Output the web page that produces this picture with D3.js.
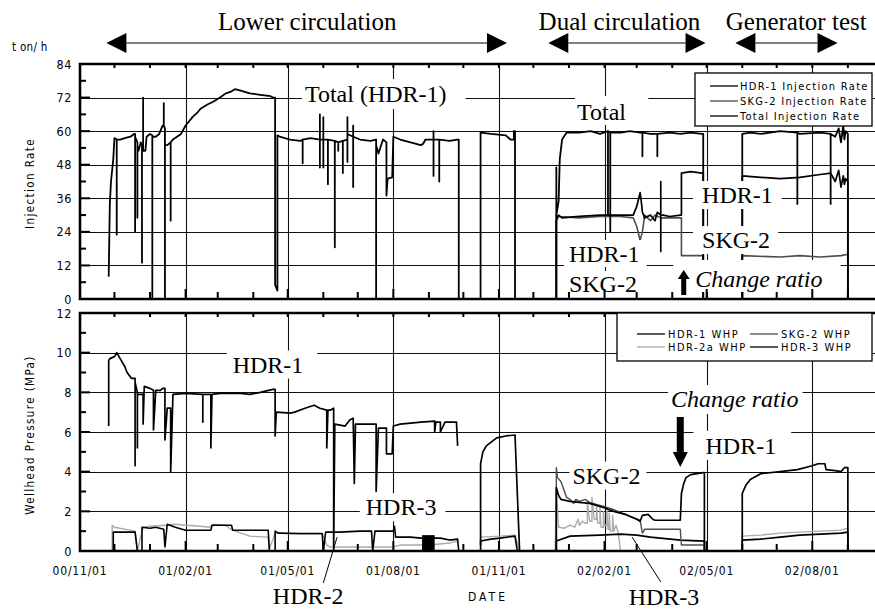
<!DOCTYPE html>
<html lang="en">
<head>
<meta charset="utf-8">
<title>Injection rate and wellhead pressure</title>
<script src="https://cdn.jsdelivr.net/npm/d3@7"></script>
<style>
  body { margin: 0; background: #fff; }
  svg { display: block; }
</style>
</head>
<body>
<script>
// ---------- data (date, value) ; repeated dates make vertical spikes ----------

// t/h, lower circulation total is HDR-1 only
var totalRate = [
  ["2000-11-26",8],["2000-11-27",34],["2000-11-28",42],["2000-11-30",50],["2000-12-01",57.5],
  ["2000-12-03",57],["2000-12-03",23],["2000-12-03",57],["2000-12-06",57],["2000-12-10",57.5],
  ["2000-12-15",58],["2000-12-18",59],["2000-12-19",59],["2000-12-19",24],["2000-12-19",58],
  ["2000-12-21",56],["2000-12-21",29],["2000-12-21",55],["2000-12-22",53],["2000-12-24",56],
  ["2000-12-25",55],["2000-12-25",13],["2000-12-25",54],["2000-12-26",56],["2000-12-26",72],["2000-12-26",53],
  ["2000-12-28",53],["2000-12-29",58],["2001-01-01",59],["2001-01-03",58.5],["2001-01-03",0],["2001-01-03",58],
  ["2001-01-06",58],["2001-01-09",59],["2001-01-12",62],["2001-01-13",62],["2001-01-13",70],["2001-01-13",62],
  ["2001-01-14",61],["2001-01-14",0],["2001-01-14",55],["2001-01-16",55],
  ["2001-01-19",56],["2001-01-19",28],["2001-01-19",56],["2001-01-21",57],["2001-01-28",59],
  ["2001-02-01",62],["2001-02-05",64],["2001-02-07",65],["2001-02-11",66.5],["2001-02-14",68],
  ["2001-02-20",69.5],["2001-02-25",70.5],["2001-03-03",72],["2001-03-08",73.5],["2001-03-12",74],
  ["2001-03-16",75],["2001-03-21",74.5],["2001-03-29",73.5],["2001-04-07",73],["2001-04-16",72.5],
  ["2001-04-18",72],["2001-04-20",72],["2001-04-20",5],["2001-04-22",3],["2001-04-22",58.5],
  ["2001-04-24",58],["2001-05-03",57],["2001-05-12",56.5],
  ["2001-05-14",57],["2001-05-14",48.5],["2001-05-14",57],["2001-05-21",57.5],
  ["2001-05-29",57],["2001-05-29",47],["2001-05-29",66],["2001-05-29",57],
  ["2001-06-01",57],["2001-06-01",47],["2001-06-01",65],["2001-06-01",57],
  ["2001-06-05",57],["2001-06-05",41],["2001-06-05",57],
  ["2001-06-11",56.5],["2001-06-11",18.5],["2001-06-11",56.5],
  ["2001-06-14",56],["2001-06-14",53],["2001-06-14",56],
  ["2001-06-18",56.5],["2001-06-18",45],["2001-06-18",56.5],
  ["2001-06-22",57],["2001-06-22",49],["2001-06-22",65],["2001-06-22",59],
  ["2001-06-27",58],["2001-06-27",40],["2001-06-27",62],["2001-06-27",58],
  ["2001-07-03",57],["2001-07-12",56.5],["2001-07-17",57],["2001-07-17",0],["2001-07-17",55],
  ["2001-07-19",52],["2001-07-23",57],["2001-07-26",56],["2001-07-26",37],["2001-07-27",43],
  ["2001-07-31",43.5],["2001-08-01",58],["2001-08-07",57],["2001-08-16",56],["2001-08-25",55],
  ["2001-08-27",55.5],["2001-08-29",57],
  ["2001-09-05",57],["2001-09-05",44],["2001-09-05",60],["2001-09-05",57],
  ["2001-09-10",57],["2001-09-10",42],["2001-09-10",57],["2001-09-19",56.5],["2001-09-26",57],
  ["2001-09-27",57],["2001-09-27",0],["2001-10-16",0],["2001-10-16",59.5],["2001-10-25",59],
  ["2001-11-07",58.5],["2001-11-11",57],["2001-11-14",57],["2001-11-14",60],["2001-11-15",60],["2001-11-15",0],
  ["2001-12-21",0],["2001-12-21",47],["2001-12-21",30],["2001-12-23",35],["2001-12-24",50],
  ["2001-12-26",57],["2001-12-30",59.5],["2002-01-10",59.5],["2002-01-20",60],["2002-01-28",59],
  ["2002-02-04",60],["2002-02-04",30],["2002-02-04",60],["2002-02-06",59.5],["2002-02-06",24],["2002-02-06",59.5],
  ["2002-02-15",59.5],["2002-02-23",60],["2002-03-04",59.5],
  ["2002-03-06",59.5],["2002-03-06",51],["2002-03-06",59.5],["2002-03-13",59],
  ["2002-03-19",59],["2002-03-19",51],["2002-03-19",59],["2002-03-30",59.5],["2002-04-08",59],
  ["2002-04-17",59.5],["2002-04-27",59],["2002-04-28",59],["2002-04-28",0],
  ["2002-06-01",0],["2002-06-01",59],["2002-06-08",59.5],["2002-06-17",59],["2002-07-04",60],
  ["2002-07-19",59.5],["2002-07-19",34],["2002-07-19",59.5],["2002-07-21",59],["2002-08-08",59.5],
  ["2002-08-17",59],["2002-08-17",34],["2002-08-17",59],["2002-08-21",58],["2002-08-24",61],
  ["2002-08-26",56],["2002-08-28",62],["2002-08-29",57],["2002-08-30",60],["2002-09-01",59],["2002-09-01",0]
];

var hdr1Rate = [
  ["2001-12-21",0],["2001-12-21",28],["2001-12-23",30],["2001-12-26",29],["2002-01-10",29.5],
  ["2002-01-28",30],["2002-02-15",30],["2002-02-26",30],["2002-03-01",33],["2002-03-04",38],
  ["2002-03-05",35],["2002-03-06",31],["2002-03-08",29],["2002-03-13",30],["2002-03-17",28],
  ["2002-03-19",31],["2002-03-22",30],["2002-03-22",17],["2002-03-22",42],["2002-03-22",30],
  ["2002-03-24",30],["2002-03-30",29.5],["2002-04-08",30],["2002-04-09",30],["2002-04-09",45],
  ["2002-04-17",45.5],["2002-04-27",45],["2002-04-28",45],["2002-04-28",0],
  ["2002-06-01",0],["2002-06-01",44],["2002-06-17",43.5],["2002-07-04",43],["2002-07-21",43.5],
  ["2002-08-08",44.5],["2002-08-17",45],["2002-08-21",42],["2002-08-24",46],["2002-08-26",40],
  ["2002-08-28",44],["2002-08-29",41],["2002-08-30",43],["2002-09-01",42],["2002-09-01",0]
];

var skg2Rate = [
  ["2001-12-21",0],["2001-12-21",30],["2001-12-23",29.5],["2002-01-10",29],["2002-01-28",29.5],
  ["2002-02-15",29.5],["2002-02-26",29],["2002-03-01",26],["2002-03-04",21],["2002-03-06",24],
  ["2002-03-08",30],["2002-03-13",28],["2002-03-17",30],["2002-03-22",29],["2002-03-30",29],
  ["2002-04-08",29],["2002-04-09",29],["2002-04-09",15.5],["2002-04-27",15.5],["2002-04-28",15.5],
  ["2002-04-28",0],["2002-06-01",0],["2002-06-01",15.5],["2002-07-04",15],["2002-07-21",15.5],
  ["2002-08-08",15],["2002-08-26",15.5],["2002-09-01",16],["2002-09-01",0]
];

// MPa
var hdr1Whp = [
  ["2000-11-26",6.3],["2000-11-26",9.6],["2000-11-27",9.7],["2000-12-01",9.8],["2000-12-03",10.0],
  ["2000-12-06",9.7],["2000-12-10",9.3],["2000-12-12",9.0],["2000-12-16",8.7],
  ["2000-12-19",8.7],["2000-12-19",4.3],["2000-12-19",8.5],["2000-12-21",8.0],["2000-12-21",5.2],["2000-12-21",7.9],
  ["2000-12-25",7.9],["2000-12-26",7.9],["2000-12-26",6.4],["2000-12-27",8.3],["2001-01-01",8.2],
  ["2001-01-04",8.1],["2001-01-04",6.1],["2001-01-06",8.1],["2001-01-10",8.1],["2001-01-12",8.2],
  ["2001-01-14",8.2],["2001-01-14",5.6],["2001-01-16",7.2],["2001-01-17",7.2],
  ["2001-01-19",7.2],["2001-01-19",4.0],["2001-01-21",7.9],["2001-02-01",7.95],
  ["2001-02-16",7.9],["2001-02-16",6.5],["2001-02-16",7.9],["2001-02-23",7.9],["2001-02-23",5.2],["2001-02-24",7.9],
  ["2001-03-03",7.95],["2001-03-21",7.95],["2001-03-29",7.9],["2001-04-07",8.0],["2001-04-18",8.15],
  ["2001-04-20",8.15],["2001-04-20",5.8],["2001-04-21",7.0],["2001-05-03",6.95],["2001-05-07",7.0],
  ["2001-05-16",7.2],["2001-05-24",7.35],["2001-05-29",7.2],["2001-06-04",7.1],["2001-06-04",5.2],
  ["2001-06-05",7.1],["2001-06-07",7.1],["2001-06-10",7.2],["2001-06-10",0],["2001-06-11",6.4],
  ["2001-06-20",6.3],["2001-06-24",6.6],["2001-06-27",6.7],["2001-06-28",3.4],["2001-06-29",6.4],
  ["2001-07-12",6.4],["2001-07-17",6.4],["2001-07-17",3.0],["2001-07-19",6.2],["2001-07-26",6.2],
  ["2001-07-26",4.9],["2001-07-31",4.9],["2001-08-01",6.3],["2001-08-07",6.4],["2001-08-25",6.5],
  ["2001-09-06",6.55],["2001-09-06",6.0],["2001-09-07",6.5],["2001-09-11",6.5],["2001-09-11",6.0],
  ["2001-09-15",6.5],["2001-09-25",6.5],["2001-09-26",5.3],
  [null,null],
  ["2001-10-16",0.3],["2001-10-16",4.4],["2001-10-18",5.0],["2001-10-21",5.3],["2001-10-30",5.7],
  ["2001-11-07",5.8],["2001-11-15",5.85],["2001-11-19",0],
  ["2001-12-21",0],["2001-12-21",3.2],["2001-12-23",2.8],["2001-12-25",2.6],["2002-01-02",2.5],
  ["2002-01-10",2.45],["2002-01-19",2.4],["2002-01-31",2.2],["2002-02-09",2.0],["2002-02-19",1.85],
  ["2002-03-01",1.6],["2002-03-04",1.5],["2002-03-06",1.8],["2002-03-11",1.85],["2002-03-15",1.6],
  ["2002-03-17",1.55],["2002-04-08",1.55],["2002-04-09",2.9],["2002-04-11",3.4],["2002-04-13",3.7],
  ["2002-04-17",3.85],["2002-04-28",3.95],["2002-04-29",3.95],["2002-04-29",0],
  ["2002-06-01",0],["2002-06-01",2.9],["2002-06-04",3.3],["2002-06-08",3.6],["2002-06-17",3.9],
  ["2002-07-04",4.0],["2002-07-19",4.1],["2002-08-01",4.3],["2002-08-06",4.4],["2002-08-12",4.4],
  ["2002-08-13",4.1],["2002-08-21",4.05],["2002-08-26",4.0],["2002-08-29",4.2],["2002-09-01",4.2],["2002-09-01",0]
];

var skg2Whp = [
  ["2001-12-21",0],["2001-12-21",4.2],["2001-12-22",3.7],["2001-12-25",3.5],["2001-12-30",2.7],
  ["2002-01-02",2.6],["2002-01-05",2.4],["2002-01-07",2.6],["2002-01-10",2.5],["2002-01-15",2.6],
  ["2002-01-19",2.45],["2002-01-28",2.3],["2002-02-06",2.15],["2002-02-15",1.95],["2002-02-23",1.75],
  ["2002-03-04",1.55],["2002-03-06",0.9],["2002-03-08",1.1],["2002-04-08",1.1],["2002-04-09",0.3],
  ["2002-04-29",0.3],["2002-04-29",0]
];

var hdr2aWhp = [
  ["2000-11-29",0],["2000-11-29",1.3],["2000-12-01",1.2],["2000-12-10",1.1],["2000-12-19",1.0],
  ["2000-12-21",0],["2000-12-23",0.5],["2000-12-26",1.2],["2001-01-01",1.25],["2001-01-15",1.3],
  ["2001-01-23",1.35],["2001-02-01",1.3],["2001-02-14",1.25],["2001-02-22",1.2],["2001-02-25",1.35],
  ["2001-03-08",1.3],["2001-03-12",1.1],["2001-03-21",0.9],["2001-03-29",0.75],["2001-04-14",0.7],
  ["2001-04-15",0.1],["2001-04-20",0.9],["2001-05-12",0.85],["2001-05-31",0.85],["2001-06-04",0.3],
  ["2001-06-07",0.2],["2001-07-03",0.2],["2001-08-01",0.2],["2001-08-07",0.3],["2001-09-02",0.3],
  ["2001-09-19",0.4],["2001-09-26",0.5],
  [null,null],
  ["2001-10-16",0],["2001-10-16",0.7],["2001-11-02",0.75],["2001-11-15",0.8],["2001-11-19",0],
  ["2001-12-20",0],["2001-12-21",3.0],["2001-12-23",1.2],["2001-12-28",1.15],["2002-01-02",1.3],
  ["2002-01-06",1.2],["2002-01-09",1.6],["2002-01-10",1.3],["2002-01-13",1.5],["2002-01-15",1.4],
  ["2002-01-17",1.4],["2002-01-17",2.5],["2002-01-19",1.5],["2002-01-21",1.5],["2002-01-21",2.7],
  ["2002-01-23",1.6],["2002-01-25",1.6],["2002-01-25",2.3],["2002-01-26",1.4],["2002-01-28",1.4],
  ["2002-01-28",2.2],["2002-01-29",1.2],["2002-01-31",1.2],["2002-01-31",2.0],["2002-02-01",1.3],
  ["2002-02-03",1.3],["2002-02-03",2.1],["2002-02-04",1.1],["2002-02-05",1.1],["2002-02-05",1.9],
  ["2002-02-06",1.0],["2002-02-08",1.0],["2002-02-08",1.8],["2002-02-09",1.0],["2002-02-11",1.3],
  ["2002-02-13",0.9],["2002-02-15",0],
  ["2002-06-01",0],["2002-06-01",0.75],["2002-06-17",0.8],["2002-07-04",0.9],["2002-07-21",0.95],
  ["2002-08-08",1.0],["2002-08-26",1.05],["2002-09-01",1.15],["2002-09-01",0]
];

var hdr3Whp = [
  ["2000-11-30",0],["2000-11-30",0.95],["2000-12-10",0.95],["2000-12-19",0.95],["2000-12-21",0],
  ["2000-12-25",0],["2000-12-25",1.2],["2001-01-01",1.15],["2001-01-06",1.2],["2001-01-13",1.1],
  ["2001-01-14",0.2],["2001-01-16",1.35],["2001-01-23",1.2],["2001-02-01",1.05],["2001-02-14",1.05],
  ["2001-02-23",1.05],["2001-02-24",1.3],["2001-03-08",1.3],["2001-03-13",1.3],["2001-03-14",1.05],
  ["2001-03-29",1.05],["2001-04-14",1.05],["2001-04-15",0],["2001-04-20",0],["2001-04-20",1.0],
  ["2001-04-23",0.9],["2001-05-12",0.88],["2001-05-31",0.88],["2001-06-01",0],["2001-06-03",0.95],
  ["2001-06-15",0.95],["2001-07-03",1.0],["2001-07-13",1.0],["2001-07-14",0],["2001-07-16",1.0],
  ["2001-08-01",1.0],["2001-08-02",1.25],["2001-08-03",0.7],["2001-08-16",0.7],["2001-08-25",0.65],
  ["2001-09-11",0.65],["2001-09-19",0.55],["2001-09-26",0.6],["2001-09-27",0],
  ["2001-10-16",0],["2001-10-16",0.5],["2001-10-25",0.6],["2001-11-02",0.65],["2001-11-15",0.75],
  ["2001-11-17",0],["2001-12-21",0],["2001-12-21",0.5],["2002-01-02",0.75],["2002-01-28",0.8],
  ["2002-02-15",0.85],["2002-03-01",0.8],["2002-03-13",0.7],["2002-04-08",0.55],["2002-04-29",0.5],
  ["2002-04-29",0],["2002-06-01",0],["2002-06-01",0.55],["2002-06-17",0.6],["2002-07-04",0.7],
  ["2002-07-21",0.8],["2002-08-08",0.85],["2002-08-26",0.9],["2002-09-01",0.95],["2002-09-01",0]
];

// rapid HDR-3 oscillation drawn as a filled band: start, end, low, high
var hdr3Band = [["2001-08-26","2001-09-06",0,0.8]];

var rateTicks = [0, 12, 24, 36, 48, 60, 72, 84];
var whpTicks = [0, 2, 4, 6, 8, 10, 12];

var phases = [
  {label: "Lower circulation", start: "2000-11-24", end: "2001-11-08", mid: "2001-05-18"},
  {label: "Dual circulation", start: "2001-12-14", end: "2002-04-30", mid: "2002-02-14"},
  {label: "Generator test", start: "2002-05-26", end: "2002-08-23", mid: "2002-07-18"}
];

var topNotes = [
  {text: "Total (HDR-1)", date: "2001-05-16", value: 70.4, pad: [3, 19, 2, 2]},
  {text: "Total", date: "2002-01-08", value: 64.0, pad: [2, 22, 3, 0]},
  {text: "HDR-1", date: "2002-04-27", value: 34.3, pad: [9, 9, 1, 1]},
  {text: "SKG-2", date: "2002-04-27", value: 18.2, pad: [9, 8, 1, 1]},
  {text: "HDR-1", date: "2002-01-01", value: 13.2, pad: [5, 7, 1, 0]},
  {text: "SKG-2", date: "2002-01-01", value: 2.5, pad: [5, 7, 0, 2]},
  {text: "Change ratio", date: "2002-04-21", value: 4.3, pad: [22, 18, 6, 0], italic: true}
];
var botNotes = [
  {text: "HDR-1", date: "2001-03-14", value: 9.0, pad: [6, 14, 1, 1]},
  {text: "HDR-3", date: "2001-07-08", value: 1.8, pad: [6, 9, 1, 1]},
  {text: "SKG-2", date: "2002-01-04", value: 3.4, pad: [3, 6, 1, 1]},
  {text: "Change ratio", date: "2002-03-31", value: 7.26, pad: [3, 4, 1, 2], italic: true},
  {text: "HDR-1", date: "2002-04-30", value: 4.9, pad: [12, 15, 2, 1]}
];
var belowNotes = [
  {text: "HDR-2", date: "2001-04-18", value: -2.67, from: ["2001-06-01", -1.61], to: ["2001-06-13", 0.7]},
  {text: "HDR-3", date: "2002-02-22", value: -2.72, from: ["2002-03-22", -1.56], to: ["2002-02-25", 0.7]}
];
var upArrow = {date: "2002-04-11", from: 1.4, to: 10.4};
var downArrow = {date: "2002-04-08", from: 6.76, to: 4.24};

var topLegend = ["HDR-1 Injection Rate", "SKG-2 Injection Rate", "Total Injection Rate"];
var botLegend = ["HDR-1 WHP", "SKG-2 WHP", "HDR-2a WHP", "HDR-3 WHP"];

// ---------- layout ----------
var W = 875, H = 609;
var left = 80, right = 880;
var SANS = "'Liberation Sans Narrow', 'DejaVu Sans Condensed', 'Arial Narrow', sans-serif";
var SERIF = "'Liberation Serif', 'Times New Roman', serif";

var parse = d3.utcParse("%Y-%m-%d");
var fmt = d3.utcFormat("%y/%m/%d");

function rows(a) {
  return a.map(function(d) { return {date: d[0] ? parse(d[0]) : null, value: d[1]}; });
}

var x = d3.scaleUtc()
  .domain([parse("2000-11-01"), parse("2002-09-29")])
  .range([left, right]);
var yTop = d3.scaleLinear().domain([0, 84]).range([299, 64]);
var yBot = d3.scaleLinear().domain([0, 12]).range([551, 313]);

var months = d3.utcMonth.range(parse("2000-11-01"), parse("2002-09-29"));
var quarters = months.filter(function(m) { return m.getUTCMonth() % 3 === 1; });

var svg = d3.select("body").append("svg")
  .attr("width", W).attr("height", H)
  .style("background", "#fff");

var gGrid = svg.append("g"),
    gData = svg.append("g"),
    gBox = svg.append("g"),
    gFrame = svg.append("g"),
    gText = svg.append("g"),
    gLegend = svg.append("g");

var panels = [
  {y: yTop, ticks: rateTicks, minor: 6, id: "clipTop",
   series: [
     {data: skg2Rate, color: "#4d4d4d", width: 1.6},
     {data: hdr1Rate, color: "#000", width: 1.7},
     {data: totalRate, color: "#000", width: 1.8}
   ]},
  {y: yBot, ticks: whpTicks, minor: 1, id: "clipBot",
   series: [
     {data: hdr2aWhp, color: "#aaa", width: 1.4},
     {data: hdr3Whp, color: "#000", width: 1.6},
     {data: skg2Whp, color: "#4d4d4d", width: 1.4},
     {data: hdr1Whp, color: "#000", width: 1.7}
   ]}
];

panels.forEach(function(p) {
  var y = p.y, y0 = y.range()[0], y1 = y.range()[1];

  svg.append("clipPath").attr("id", p.id)
    .append("rect").attr("x", left).attr("y", y1).attr("width", right - left).attr("height", y0 - y1);

  // grid
  gGrid.selectAll(null).data(p.ticks.slice(1, -1)).enter().append("line")
    .attr("x1", left).attr("x2", right)
    .attr("y1", function(d) { return Math.round(y(d)) + 0.5; })
    .attr("y2", function(d) { return Math.round(y(d)) + 0.5; })
    .attr("stroke", "#111").attr("stroke-width", 1.1);
  gGrid.selectAll(null).data(quarters.slice(1)).enter().append("line")
    .attr("x1", function(d) { return Math.round(x(d)) + 0.5; })
    .attr("x2", function(d) { return Math.round(x(d)) + 0.5; })
    .attr("y1", y1).attr("y2", y0)
    .attr("stroke", "#111").attr("stroke-width", 1.1);

  // data
  var line = d3.line()
    .defined(function(d) { return d.value !== null; })
    .x(function(d) { return x(d.date); })
    .y(function(d) { return y(d.value); });
  var g = gData.append("g").attr("clip-path", "url(#" + p.id + ")");
  p.series.forEach(function(s) {
    g.append("path").datum(rows(s.data))
      .attr("d", line)
      .attr("fill", "none")
      .attr("stroke", s.color)
      .attr("stroke-width", s.width)
      .attr("stroke-linejoin", "round");
  });

  // frame
  gFrame.append("path")
    .attr("d", "M" + right + "," + y1 + "H" + left + "V" + y0 + "H" + right)
    .attr("fill", "none").attr("stroke", "#000").attr("stroke-width", 2.6);

  // y ticks (major + minor, inward)
  var minors = d3.range(0, y.domain()[1] + 0.001, p.minor);
  gFrame.selectAll(null).data(minors).enter().append("line")
    .attr("x1", left).attr("y1", function(d) { return y(d); })
    .attr("x2", function(d) { return left + (p.ticks.indexOf(d) >= 0 ? 10 : 6); })
    .attr("y2", function(d) { return y(d); })
    .attr("stroke", "#000").attr("stroke-width", 2);
  gText.selectAll(null).data(p.ticks).enter().append("text")
    .attr("x", 72).attr("y", function(d) { return y(d); })
    .attr("dy", "0.36em")
    .attr("text-anchor", "end")
    .attr("font-family", SANS).attr("font-size", 12.5).attr("letter-spacing", 0.6)
    .text(function(d) { return d; });

  // x ticks, bottom (inward) and top (inward)
  gFrame.selectAll(null).data(months).enter().append("line")
    .attr("x1", function(d) { return x(d); }).attr("x2", function(d) { return x(d); })
    .attr("y1", y0)
    .attr("y2", function(d) { return y0 - (d.getUTCMonth() % 3 === 1 ? 10 : 7); })
    .attr("stroke", "#000").attr("stroke-width", 2);
  gFrame.selectAll(null).data(months).enter().append("line")
    .attr("x1", function(d) { return x(d); }).attr("x2", function(d) { return x(d); })
    .attr("y1", y1).attr("y2", y1 + 4)
    .attr("stroke", "#000").attr("stroke-width", 2);
});

// oscillation band
gData.selectAll(null).data(hdr3Band).enter().append("rect")
  .attr("x", function(d) { return x(parse(d[0])); })
  .attr("width", function(d) { return x(parse(d[1])) - x(parse(d[0])); })
  .attr("y", function(d) { return yBot(d[3]); })
  .attr("height", function(d) { return yBot(d[2]) - yBot(d[3]); })
  .attr("fill", "#000");

// x tick labels
gText.selectAll(null).data(quarters).enter().append("text")
  .attr("x", function(d) { return x(d); }).attr("y", 575)
  .attr("text-anchor", "middle")
  .attr("font-family", SANS).attr("font-size", 12).attr("letter-spacing", 0.8)
  .text(function(d) { return fmt(d); });

gText.append("text").attr("x", 468).attr("y", 601)
  .attr("font-family", SANS).attr("font-size", 12).attr("letter-spacing", 3)
  .text("DATE");
gText.append("text").attr("x", 12).attr("y", 51)
  .attr("font-family", SANS).attr("font-size", 11.5).attr("letter-spacing", 0.3)
  .text("t on/ h");
gText.append("text")
  .attr("transform", "translate(34," + ((64 + 299) / 2 + 2) + ") rotate(-90)")
  .attr("text-anchor", "middle")
  .attr("font-family", SANS).attr("font-size", 11.5).attr("letter-spacing", 1.4)
  .text("Injection Rate");
gText.append("text")
  .attr("transform", "translate(34," + ((313 + 551) / 2 + 3) + ") rotate(-90)")
  .attr("text-anchor", "middle")
  .attr("font-family", SANS).attr("font-size", 11.5).attr("letter-spacing", 1.4)
  .text("Wellhead Pressure (MPa)");

// phase arrows in header
var arrowY = 43, head = 20;
phases.forEach(function(ph) {
  var a = x(parse(ph.start)), b = x(parse(ph.end));
  gText.append("line").attr("x1", a + head).attr("x2", b - head)
    .attr("y1", arrowY).attr("y2", arrowY)
    .attr("stroke", "#000").attr("stroke-width", 1.2);
  gText.append("path")
    .attr("d", "M" + a + "," + arrowY + "L" + (a + head) + "," + (arrowY - 10) + "V" + (arrowY + 10) + "Z" +
               "M" + b + "," + arrowY + "L" + (b - head) + "," + (arrowY - 10) + "V" + (arrowY + 10) + "Z")
    .attr("fill", "#000");
  gText.append("text")
    .attr("x", x(parse(ph.mid))).attr("y", 30)
    .attr("text-anchor", "middle")
    .attr("font-family", SERIF).attr("font-size", 25)
    .text(ph.label);
});

// annotations with white backing
function note(n, y) {
  var t = gText.append("text")
    .attr("x", x(parse(n.date))).attr("y", y(n.value))
    .attr("font-family", SERIF).attr("font-size", 24)
    .attr("font-style", n.italic ? "italic" : "normal")
    .text(n.text);
  if (n.pad) {
    var b = t.node().getBBox();
    gBox.append("rect")
      .attr("x", b.x - n.pad[0]).attr("y", b.y - n.pad[2])
      .attr("width", b.width + n.pad[0] + n.pad[1])
      .attr("height", b.height + n.pad[2] + n.pad[3])
      .attr("fill", "#fff");
  }
}
topNotes.forEach(function(n) { note(n, yTop); });
botNotes.forEach(function(n) { note(n, yBot); });
belowNotes.forEach(function(n) {
  note(n, yBot);
  gText.append("line")
    .attr("x1", x(parse(n.from[0]))).attr("y1", yBot(n.from[1]))
    .attr("x2", x(parse(n.to[0]))).attr("y2", yBot(n.to[1]))
    .attr("stroke", "#000").attr("stroke-width", 1);
});

// fat block arrows for the ratio change
function blockArrow(ax, ya, yb, shaft, hw, hl) {
  var dir = yb < ya ? -1 : 1;
  var neck = yb - dir * hl;
  return "M" + (ax - shaft / 2) + "," + ya + "V" + neck + "H" + (ax - hw / 2) +
         "L" + ax + "," + yb + "L" + (ax + hw / 2) + "," + neck + "H" + (ax + shaft / 2) + "V" + ya + "Z";
}
gText.append("path")
  .attr("d", blockArrow(x(parse(upArrow.date)), yTop(upArrow.from), yTop(upArrow.to), 5, 12, 9))
  .attr("fill", "#000");
gText.append("path")
  .attr("d", blockArrow(x(parse(downArrow.date)), yBot(downArrow.from), yBot(downArrow.to), 7, 15, 15))
  .attr("fill", "#000");

// legends
var legendColor = {"HDR-1": "#000", "SKG-2": "#4d4d4d", "Total": "#000", "HDR-2a": "#aaa", "HDR-3": "#000"};
function keyColor(name) { return legendColor[name.split(" ")[0]]; }

gLegend.append("rect").attr("x", 695).attr("y", 73).attr("width", 177).attr("height", 53)
  .attr("fill", "#fff").attr("stroke", "#000").attr("stroke-width", 1.3);
topLegend.forEach(function(name, i) {
  var yy = 86 + i * 15;
  gLegend.append("line").attr("x1", 710).attr("x2", 738).attr("y1", yy).attr("y2", yy)
    .attr("stroke", keyColor(name)).attr("stroke-width", 1.3);
  gLegend.append("text").attr("x", 740).attr("y", yy).attr("dy", "0.36em")
    .attr("font-family", SANS).attr("font-size", 11).attr("letter-spacing", 1.3)
    .text(name);
});

gLegend.append("rect").attr("x", 617).attr("y", 313).attr("width", 255).attr("height", 48)
  .attr("fill", "#fff").attr("stroke", "#000").attr("stroke-width", 1.3);
botLegend.forEach(function(name, i) {
  var col = i % 2, row = Math.floor(i / 2);
  var lx = col ? 750 : 637, yy = 334 + row * 13;
  gLegend.append("line").attr("x1", lx).attr("x2", lx + 28).attr("y1", yy).attr("y2", yy)
    .attr("stroke", keyColor(name)).attr("stroke-width", 1.3);
  gLegend.append("text").attr("x", lx + 31).attr("y", yy).attr("dy", "0.36em")
    .attr("font-family", SANS).attr("font-size", 11).attr("letter-spacing", 1.5)
    .text(name);
});
</script>
</body>
</html>
